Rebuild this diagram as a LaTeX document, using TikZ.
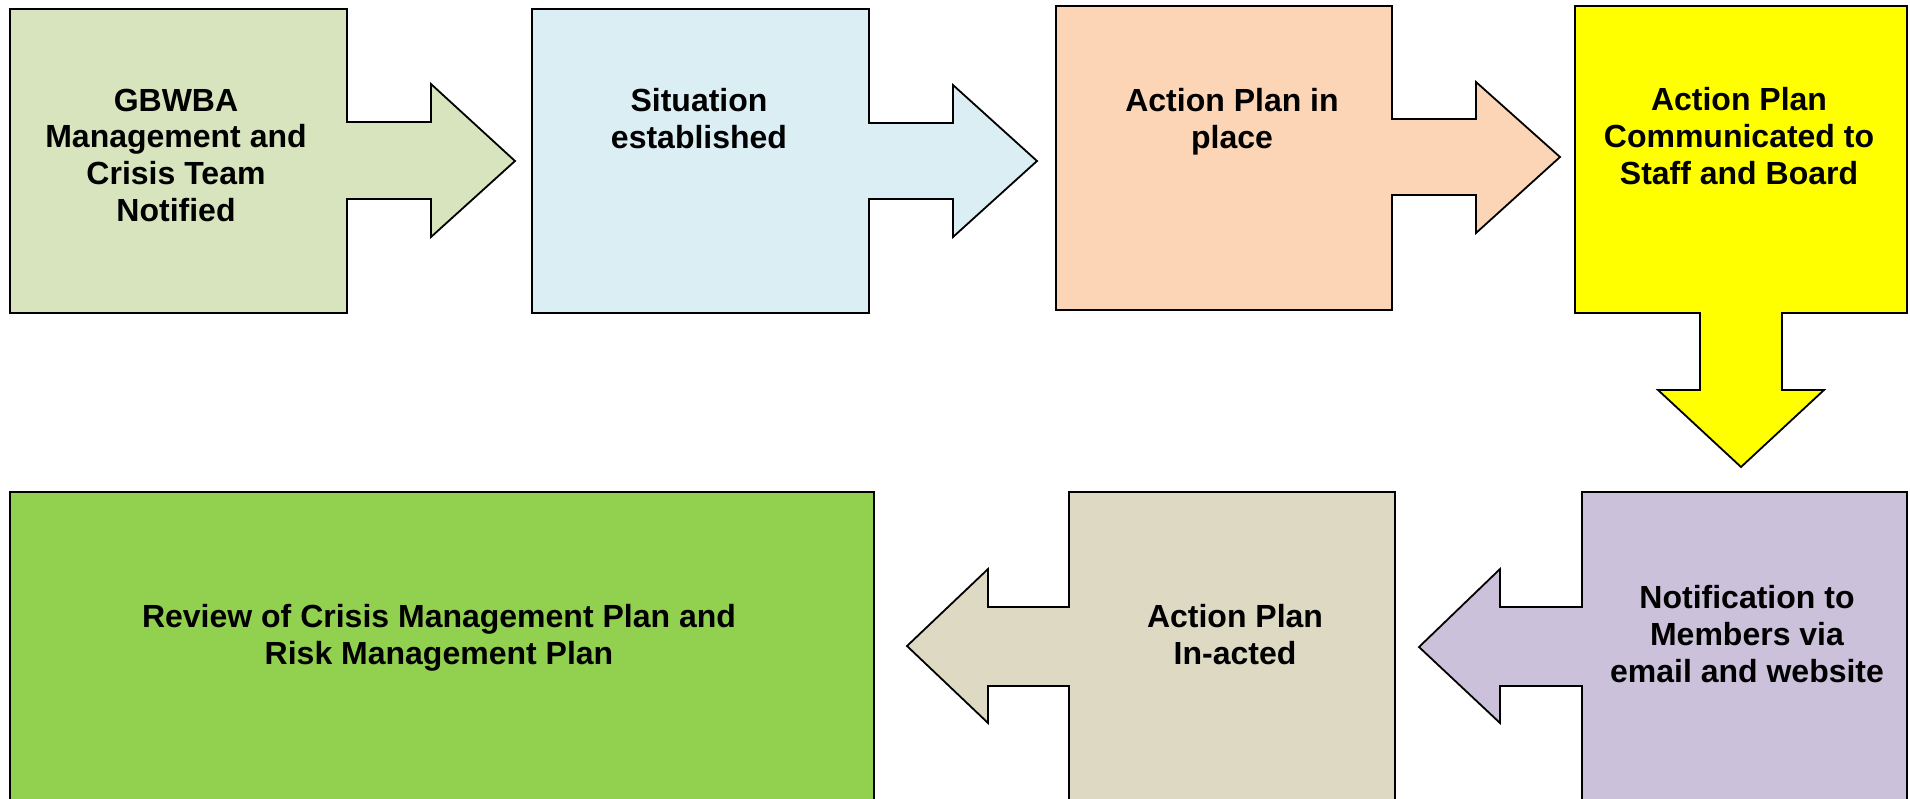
\documentclass[tikz,border=0pt]{standalone}
\usepackage{fontspec}
\setmainfont{Liberation Sans}
\definecolor{stepOlive}{HTML}{D7E4BD}
\definecolor{stepAqua}{HTML}{DBEEF4}
\definecolor{stepPeach}{HTML}{FBD5B5}
\definecolor{stepYellow}{HTML}{FFFF00}
\definecolor{stepLilac}{HTML}{CCC1DA}
\definecolor{stepTan}{HTML}{DDD9C3}
\definecolor{stepGreen}{HTML}{92D050}
\begin{document}
\begin{tikzpicture}[x=1pt,y=-1pt,
  callout/.style={draw=black, line width=1.8pt, line join=miter},
  % the base anchor of a multi-line label is the baseline of its last line
  steptext/.style={font=\fontsize{32}{36.6}\selectfont\bfseries, align=center,
                   anchor=base, inner sep=0pt}]
\useasboundingbox (0,0) rectangle (1910,798);
\clip (0,0) rectangle (1910,798);

% top row: boxes with right-pointing arrow callouts
\path[callout, fill=stepOlive] (10,9) -- (347,9) -- (347,122) -- (431,122) -- (431,84)
  -- (515,161) -- (431,237) -- (431,199) -- (347,199) -- (347,313) -- (10,313) -- cycle;
\path[callout, fill=stepAqua] (532,9) -- (869,9) -- (869,123) -- (953,123) -- (953,85)
  -- (1037,161) -- (953,237) -- (953,199) -- (869,199) -- (869,313) -- (532,313) -- cycle;
\path[callout, fill=stepPeach] (1056,6) -- (1392,6) -- (1392,119) -- (1476,119) -- (1476,82)
  -- (1560,157) -- (1476,233) -- (1476,195) -- (1392,195) -- (1392,310) -- (1056,310) -- cycle;
% last box of the top row points down
\path[callout, fill=stepYellow] (1575,6) -- (1907,6) -- (1907,313) -- (1782,313) -- (1782,390)
  -- (1824,390) -- (1741,467) -- (1658,390) -- (1700,390) -- (1700,313) -- (1575,313) -- cycle;

% bottom row: boxes with left-pointing arrow callouts
\path[callout, fill=stepLilac] (1582,492) -- (1907,492) -- (1907,830) -- (1582,830) -- (1582,686)
  -- (1500,686) -- (1500,723) -- (1419,647) -- (1500,569) -- (1500,607) -- (1582,607) -- cycle;
\path[callout, fill=stepTan] (1069,492) -- (1395,492) -- (1395,830) -- (1069,830) -- (1069,686)
  -- (988,686) -- (988,723) -- (907,646) -- (988,569) -- (988,607) -- (1069,607) -- cycle;
\path[callout, fill=stepGreen] (10,492) rectangle (874,830);

% labels
\node[steptext] (t1) at (176,221) {GBWBA\\Management and\\Crisis Team\\Notified};
\node[steptext] (t2) at (699,148) {Situation\\established};
\node[steptext] (t3) at (1232,148) {Action Plan in\\place};
\node[steptext] (t4) at (1739,184) {Action Plan\\Communicated to\\Staff and Board};
\node[steptext] (t5) at (1747,682) {Notification to\\Members via\\email and website};
\node[steptext] (t6) at (1235,664) {Action Plan\\In-acted};
\node[steptext] (t7) at (439,664) {Review of Crisis Management Plan and\\Risk Management Plan};
\end{tikzpicture}
\end{document}
